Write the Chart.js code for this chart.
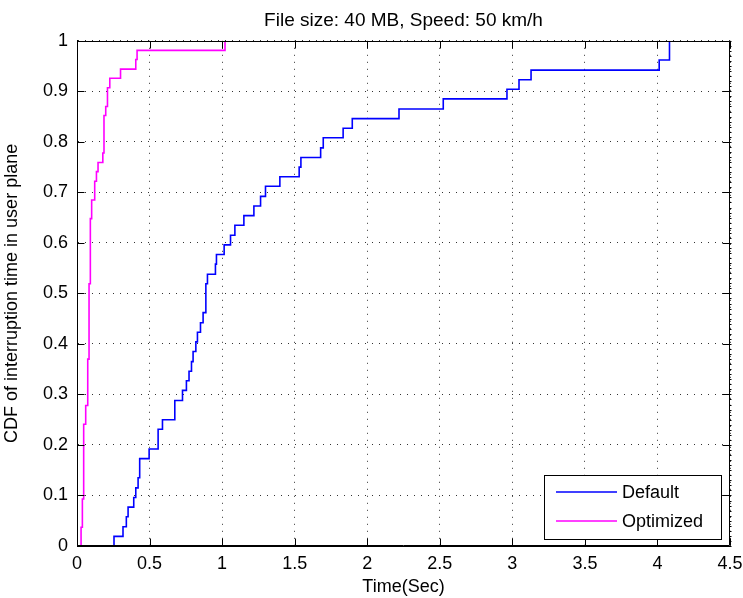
<!DOCTYPE html>
<html><head><meta charset="utf-8">
<script src="https://cdn.jsdelivr.net/npm/chart.js@4.4.0/dist/chart.umd.min.js"></script>
<style>html,body{margin:0;padding:0;background:#fff;}#wrap{width:743px;height:598px;}</style>
</head><body><div id="wrap"><canvas id="c" width="743" height="598"></canvas></div>
<script>
const titleText = 'File size: 40 MB, Speed: 50 km/h';
const xAxisLabel = 'Time(Sec)';
const yAxisLabel = 'CDF of interruption time in user plane';
const seriesNames = ['Default', 'Optimized'];
const seriesColors = ['#0000ff', '#ff00ff'];

const defaultTime = [0.255,0.255,0.317,0.340,0.352,0.391,0.405,0.421,0.432,0.497,0.559,0.589,0.674,0.727,0.754,0.772,0.789,0.800,0.819,0.830,0.851,0.869,0.888,0.899,0.954,0.961,1.014,1.058,1.088,1.150,1.219,1.265,1.299,1.398,1.531,1.543,1.679,1.697,1.834,1.897,2.219,2.524,2.963,3.046,3.129,4.012,4.083];
const defaultCdf  = [0,0.019,0.038,0.058,0.077,0.096,0.115,0.135,0.173,0.192,0.231,0.250,0.288,0.308,0.327,0.346,0.365,0.385,0.404,0.423,0.442,0.462,0.519,0.538,0.558,0.577,0.596,0.615,0.635,0.654,0.673,0.692,0.712,0.731,0.750,0.769,0.788,0.808,0.827,0.846,0.865,0.885,0.904,0.923,0.942,0.962,1.000];

const optimizedTime = [0.028,0.028,0.037,0.046,0.060,0.074,0.083,0.092,0.101,0.122,0.134,0.145,0.178,0.186,0.198,0.210,0.226,0.300,0.405,0.414,1.020];
const optimizedCdf  = [0,0.037,0.093,0.241,0.278,0.370,0.519,0.648,0.685,0.722,0.741,0.759,0.778,0.852,0.870,0.907,0.926,0.944,0.963,0.981,1.000];

const xTickValues = [0,0.5,1,1.5,2,2.5,3,3.5,4,4.5];
const xTickLabels = ['0','0.5','1','1.5','2','2.5','3','3.5','4','4.5'];
const yTickValues = [0,0.1,0.2,0.3,0.4,0.5,0.6,0.7,0.8,0.9,1];
const yTickLabels = ['0','0.1','0.2','0.3','0.4','0.5','0.6','0.7','0.8','0.9','1'];

const FONT = '"Liberation Sans", Arial, Helvetica, sans-serif';

const frameAndTicks = {
  id: 'frameAndTicks',
  afterDatasetsDraw(chart) {
    const {ctx, chartArea: a, scales: {x, y}} = chart;
    const L = Math.round(a.left) + 0.5, R = Math.round(a.right) - 0.5;
    const T = Math.round(a.top) + 0.5, B = Math.round(a.bottom) - 0.5;
    ctx.save();
    ctx.strokeStyle = '#000';
    ctx.lineWidth = 1;
    ctx.beginPath();
    ctx.rect(L, T, R - L, B - T);
    xTickValues.forEach(v => {
      const px = Math.round(x.getPixelForValue(v)) + 0.5;
      ctx.moveTo(px, B); ctx.lineTo(px, B - 7);
      ctx.moveTo(px, T); ctx.lineTo(px, T + 7);
    });
    yTickValues.forEach(v => {
      const py = Math.round(y.getPixelForValue(v)) + 0.5;
      ctx.moveTo(L, py); ctx.lineTo(L + 7, py);
      ctx.moveTo(R, py); ctx.lineTo(R - 7, py);
    });
    for (let k = 0; k <= 100; k++) {
      const py = Math.round(y.getPixelForValue(k / 100)) + 0.5;
      ctx.moveTo(R, py); ctx.lineTo(R + 2, py);
    }
    ctx.stroke();
    ctx.restore();
  }
};

const boxLegend = {
  id: 'boxLegend',
  afterDraw(chart) {
    const {ctx, chartArea: a} = chart;
    const w = 177, h = 64;
    const bx = Math.round(a.right) - 9 - w, by = Math.round(a.bottom) - 7 - h;
    ctx.save();
    ctx.fillStyle = '#fff';
    ctx.fillRect(bx, by, w, h);
    ctx.strokeStyle = '#000';
    ctx.lineWidth = 1;
    ctx.strokeRect(bx + 0.5, by + 0.5, w, h);
    ctx.font = '18px ' + FONT;
    ctx.textBaseline = 'middle';
    ctx.fillStyle = '#000';
    chart.data.datasets.forEach((ds, i) => {
      const ry = by + 17 + i * 29;
      ctx.strokeStyle = ds.borderColor;
      ctx.lineWidth = 1.5;
      ctx.beginPath();
      ctx.moveTo(bx + 12, ry); ctx.lineTo(bx + 73, ry);
      ctx.stroke();
      ctx.fillText(ds.label, bx + 78, ry + 1);
    });
    ctx.restore();
  }
};

const mk = (times, vals) => times.map((t, i) => ({x: t, y: vals[i]}));

new Chart(document.getElementById('c'), {
  type: 'line',
  data: {
    datasets: [
      {label: seriesNames[0], data: mk(defaultTime, defaultCdf), borderColor: seriesColors[0], borderWidth: 1.6, stepped: true, pointRadius: 0, fill: false},
      {label: seriesNames[1], data: mk(optimizedTime, optimizedCdf), borderColor: seriesColors[1], borderWidth: 1.6, stepped: true, pointRadius: 0, fill: false}
    ]
  },
  options: {
    responsive: false,
    animation: false,
    devicePixelRatio: 1,
    layout: {padding: {left: 0, right: 13, top: 0, bottom: 0}},
    plugins: {
      legend: {display: false},
      tooltip: {enabled: false},
      title: {display: true, fullSize: false, text: titleText, color: '#000', font: {family: FONT, size: 19, weight: 'normal'}, padding: {top: 9, bottom: 9}}
    },
    scales: {
      x: {
        type: 'linear', min: 0, max: 4.5,
        afterBuildTicks: s => { s.ticks = xTickValues.map(v => ({value: v})); },
        afterFit: s => { s.height = 52; s.paddingLeft = 0; s.paddingRight = 0; },
        ticks: {callback: (v, i) => xTickLabels[i], color: '#000', font: {family: FONT, size: 18}, padding: 7, maxRotation: 0, autoSkip: false},
        grid: {drawTicks: false, color: '#333', lineWidth: 1},
        border: {display: true, color: '#000', width: 1, dash: [1, 6]},
        title: {display: true, text: xAxisLabel, color: '#000', font: {family: FONT, size: 18}, padding: {top: 0, bottom: 0}}
      },
      y: {
        type: 'linear', min: 0, max: 1,
        afterBuildTicks: s => { s.ticks = yTickValues.map(v => ({value: v})); },
        afterFit: s => { s.width = 77; s.paddingTop = 0; s.paddingBottom = 0; },
        ticks: {callback: (v, i) => yTickLabels[i], color: '#000', font: {family: FONT, size: 18}, padding: 9, autoSkip: false},
        grid: {drawTicks: false, color: '#333', lineWidth: 1},
        border: {display: true, color: '#000', width: 1, dash: [1, 6]},
        title: {display: true, text: yAxisLabel, color: '#000', font: {family: FONT, size: 18}, padding: {top: 1, bottom: 0}}
      }
    }
  },
  plugins: [frameAndTicks, boxLegend]
});
</script>
</body></html>
